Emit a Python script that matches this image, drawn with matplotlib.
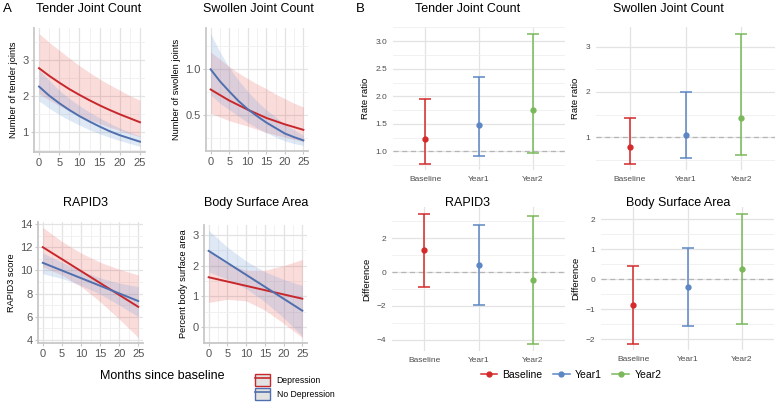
import matplotlib
matplotlib.use("Agg")
import matplotlib.pyplot as plt
from matplotlib.lines import Line2D
from matplotlib.patches import Patch
from matplotlib.ticker import MultipleLocator

plt.rcParams['font.family'] = ['Liberation Sans', 'DejaVu Sans']

W, H = 776, 405

# ---- panel A data ----
m_fine = [0, 2.5, 5, 7.5, 10, 12.5, 15, 17.5, 20, 22.5, 25]
m_coarse = [0, 5, 10, 15, 20, 25]

tjc_dep = [2.76, 2.55, 2.36, 2.18, 2.02, 1.87, 1.73, 1.60, 1.48, 1.37, 1.26]
tjc_dep_lo = [2.05, 1.88, 1.72, 1.57, 1.44, 1.32, 1.22, 1.12, 1.03, 0.94, 0.86]
tjc_dep_hi = [3.72, 3.48, 3.26, 3.04, 2.83, 2.64, 2.46, 2.30, 2.15, 2.00, 1.87]
tjc_nodep = [2.25, 2.00, 1.79, 1.60, 1.43, 1.28, 1.14, 1.01, 0.90, 0.81, 0.72]
tjc_nodep_lo = [1.85, 1.65, 1.47, 1.32, 1.18, 1.05, 0.94, 0.84, 0.75, 0.67, 0.59]
tjc_nodep_hi = [2.72, 2.42, 2.15, 1.92, 1.72, 1.54, 1.38, 1.23, 1.10, 0.98, 0.88]

sjc_dep = [0.78, 0.72, 0.66, 0.61, 0.56, 0.515, 0.47, 0.435, 0.40, 0.37, 0.34]
sjc_dep_lo = [0.52, 0.48, 0.44, 0.41, 0.38, 0.345, 0.31, 0.285, 0.26, 0.235, 0.21]
sjc_dep_hi = [1.19, 1.11, 1.03, 0.96, 0.90, 0.84, 0.79, 0.73, 0.68, 0.63, 0.59]
sjc_nodep = [1.0, 0.87, 0.76, 0.655, 0.565, 0.49, 0.42, 0.36, 0.30, 0.26, 0.225]
sjc_nodep_lo = [0.72, 0.63, 0.56, 0.49, 0.42, 0.36, 0.31, 0.26, 0.22, 0.19, 0.17]
sjc_nodep_hi = [1.39, 1.19, 1.02, 0.88, 0.76, 0.65, 0.56, 0.48, 0.40, 0.34, 0.28]

rapid_dep = [12.0, 10.97, 9.94, 8.91, 7.88, 6.85]
rapid_dep_lo = [10.3, 9.6, 8.6, 7.3, 5.8, 4.2]
rapid_dep_hi = [13.7, 12.5, 11.5, 10.7, 10.1, 9.6]
rapid_nodep = [10.65, 9.99, 9.33, 8.67, 8.01, 7.35]
rapid_nodep_lo = [9.7, 9.3, 8.7, 7.95, 7.0, 6.0]
rapid_nodep_hi = [11.5, 10.7, 9.95, 9.35, 8.9, 8.6]

bsa_dep = [1.62, 1.48, 1.34, 1.20, 1.06, 0.92]
bsa_dep_lo = [0.8, 0.9, 0.85, 0.55, 0.12, -0.35]
bsa_dep_hi = [2.45, 2.05, 1.85, 1.85, 2.0, 2.2]
bsa_nodep = [2.48, 2.09, 1.70, 1.31, 0.92, 0.53]
bsa_nodep_lo = [1.8, 1.55, 1.25, 0.82, 0.3, -0.3]
bsa_nodep_hi = [3.15, 2.6, 2.15, 1.8, 1.55, 1.35]

# ---- panel B data ----
periods = ["Baseline", "Year1", "Year2"]
tjc_rr = [1.23, 1.47, 1.745]
tjc_rr_lo = [0.78, 0.915, 0.975]
tjc_rr_hi = [1.945, 2.35, 3.14]
sjc_rr = [0.78, 1.045, 1.42]
sjc_rr_lo = [0.42, 0.55, 0.61]
sjc_rr_hi = [1.42, 1.99, 3.29]
rapid_diff = [1.32, 0.42, -0.48]
rapid_diff_lo = [-0.86, -1.96, -4.29]
rapid_diff_hi = [3.47, 2.80, 3.35]
bsa_diff = [-0.86, -0.26, 0.34]
bsa_diff_lo = [-2.15, -1.57, -1.5]
bsa_diff_hi = [0.43, 1.04, 2.19]

red_line = '#C8282C'
blue_line = '#4F6FAE'
red_fill = '#E8514F'
blue_fill = '#6E9CD8'
period_cols = ['#D42A2A', '#5C86C4', '#7AB85A']

fig = plt.figure(figsize=(W / 100, H / 100), dpi=100)


def box(x0, x1, y0, y1):
    return fig.add_axes([x0 / W, 1 - y1 / H, (x1 - x0) / W, (y1 - y0) / H])


def style_a(ax, major, minor, ylabel):
    ax.yaxis.set_major_locator(MultipleLocator(major))
    ax.yaxis.set_minor_locator(MultipleLocator(minor))
    ax.xaxis.set_major_locator(MultipleLocator(5))
    ax.xaxis.set_minor_locator(MultipleLocator(2.5))
    ax.grid(which='major', color='#E3E3E3', lw=0.9)
    ax.grid(which='minor', color='#EFEFEF', lw=0.6)
    ax.set_axisbelow(True)
    for s in ['top', 'right']:
        ax.spines[s].set_visible(False)
    for s in ['left', 'bottom']:
        ax.spines[s].set_color('#C8C8C8')
        ax.spines[s].set_linewidth(1.3)
    ax.tick_params(which='major', length=2, color='#C8C8C8', labelsize=8, labelcolor='#555555', pad=2)
    ax.tick_params(which='minor', length=0)
    ax.set_ylabel(ylabel, fontsize=6.7, labelpad=3)


def panel_a(ax, x, dep, dep_lo, dep_hi, nd, nd_lo, nd_hi):
    ax.fill_between(x, dep_lo, dep_hi, color=red_fill, alpha=0.2, lw=0)
    ax.fill_between(x, nd_lo, nd_hi, color=blue_fill, alpha=0.22, lw=0)
    ax.plot(x, dep, color=red_line, lw=1.4)
    ax.plot(x, nd, color=blue_line, lw=1.4)
    ax.margins(x=0.05, y=0.05)


ax1 = box(34, 145, 28, 152)
panel_a(ax1, m_fine, tjc_dep, tjc_dep_lo, tjc_dep_hi, tjc_nodep, tjc_nodep_lo, tjc_nodep_hi)
style_a(ax1, 1, 0.5, 'Number of tender joints')

ax2 = box(206, 308, 28, 151)
panel_a(ax2, m_fine, sjc_dep, sjc_dep_lo, sjc_dep_hi, sjc_nodep, sjc_nodep_lo, sjc_nodep_hi)
style_a(ax2, 0.5, 0.25, 'Number of swollen joints')
ax2.yaxis.set_major_formatter(lambda v, p: f"{v:.1f}")

ax3 = box(38, 143, 222, 343)
panel_a(ax3, m_coarse, rapid_dep, rapid_dep_lo, rapid_dep_hi, rapid_nodep, rapid_nodep_lo, rapid_nodep_hi)
style_a(ax3, 2, 1, 'RAPID3 score')

ax4 = box(204, 307, 225, 343)
panel_a(ax4, m_coarse, bsa_dep, bsa_dep_lo, bsa_dep_hi, bsa_nodep, bsa_nodep_lo, bsa_nodep_hi)
style_a(ax4, 1, 0.5, 'Percent body surface area')


def panel_b(ax, est, lo, hi, ref, major, minor, ylabel):
    pos = list(range(1, len(periods) + 1))
    for i in range(len(periods)):
        ax.errorbar(pos[i], est[i], yerr=[[est[i] - lo[i]], [hi[i] - est[i]]],
                    fmt='o', color=period_cols[i], ms=3.5, capsize=4, elinewidth=1.1,
                    capthick=1.1, zorder=3)
    ax.axhline(ref, color='#B5B5B5', lw=0.9, ls=(0, (4, 3)), zorder=2)
    ax.set_xlim(0.4, 3.6)
    ax.set_xticks(pos)
    ax.set_xticklabels(periods)
    ax.yaxis.set_major_locator(MultipleLocator(major))
    ax.yaxis.set_minor_locator(MultipleLocator(minor))
    ax.grid(which='major', color='#E3E3E3', lw=0.9)
    ax.grid(which='minor', axis='y', color='#EFEFEF', lw=0.6)
    ax.set_axisbelow(True)
    for s in ax.spines.values():
        s.set_visible(False)
    ax.tick_params(which='both', length=0, labelsize=6, labelcolor='#4D4D4D', pad=4)
    ax.set_ylabel(ylabel, fontsize=6.8, labelpad=4)


bx1 = box(393, 565, 27, 170)
panel_b(bx1, tjc_rr, tjc_rr_lo, tjc_rr_hi, 1, 0.5, 0.25, 'Rate ratio')
bx1.yaxis.set_major_formatter(lambda v, p: f"{v:.1f}")

bx2 = box(596, 775, 27, 170)
panel_b(bx2, sjc_rr, sjc_rr_lo, sjc_rr_hi, 1, 1, 0.5, 'Rate ratio')

bx3 = box(392, 565, 207, 351)
panel_b(bx3, rapid_diff, rapid_diff_lo, rapid_diff_hi, 0, 2, 1, 'Difference')

bx4 = box(601, 774, 207, 350)
panel_b(bx4, bsa_diff, bsa_diff_lo, bsa_diff_hi, 0, 1, 0.5, 'Difference')

# titles
titles = [("Tender Joint Count", 89, 12.5), ("Swollen Joint Count", 258, 12.5),
          ("RAPID3", 85, 206), ("Body Surface Area", 256, 206),
          ("Tender Joint Count", 468, 12.5), ("Swollen Joint Count", 668, 12.5),
          ("RAPID3", 467, 206), ("Body Surface Area", 678, 206)]
for t, xc, yb in titles:
    fig.text(xc / W, 1 - yb / H, t, fontsize=9, ha='center', va='baseline')

fig.text(3 / W, 1 - 12.5 / H, "A", fontsize=9.5, va='baseline')
fig.text(356 / W, 1 - 12.5 / H, "B", fontsize=9.5, va='baseline')

fig.text(162 / W, 1 - 379 / H, "Months since baseline", fontsize=9, ha='center', va='baseline')

# legend for panel A
h_dep = (Patch(facecolor='#E2E2E2', edgecolor=red_line, lw=1.0), Line2D([], [], color=red_line, lw=1.2))
h_nd = (Patch(facecolor='#E2E2E2', edgecolor=blue_line, lw=1.0), Line2D([], [], color=blue_line, lw=1.2))
fig.legend([h_dep, h_nd], ["Depression", "No Depression"], loc='center left',
           bbox_to_anchor=(255 / W, 1 - 387 / H), frameon=False, fontsize=6.2,
           handlelength=1.7, handleheight=1.75, handletextpad=0.8, labelspacing=0.25,
           borderpad=0, borderaxespad=0)

# legend for panel B
hb = [Line2D([], [], color=c, marker='o', ms=3.5, lw=1.1) for c in period_cols]
fig.legend(hb, periods, loc='center', bbox_to_anchor=(571 / W, 1 - 375 / H), ncol=3,
           frameon=False, fontsize=7.5, handlelength=1.6, handletextpad=0.5,
           columnspacing=1.0, borderpad=0, borderaxespad=0)

fig.savefig("out.png", dpi=100)
